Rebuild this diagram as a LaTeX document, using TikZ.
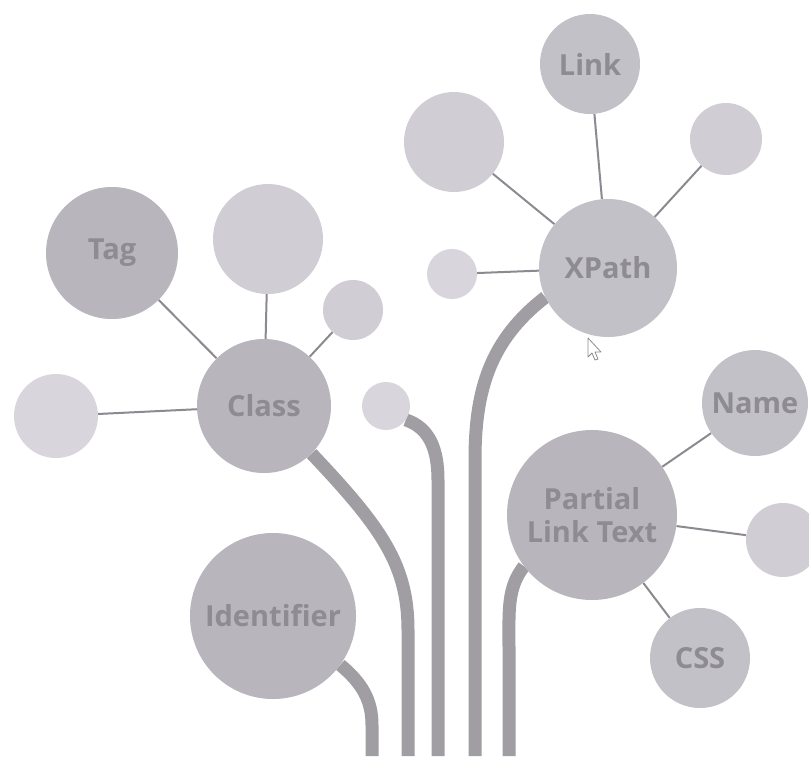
\documentclass[tikz,border=0pt]{standalone}
\usepackage{fontspec}
\setmainfont{Open Sans}
\pgfdeclarelayer{background}
\pgfsetlayers{background,main}
\begin{document}
\begin{tikzpicture}[x=1pt,y=-1pt,
  bub/.style={circle,inner sep=0pt,draw=none,font=\fontsize{29}{31}\selectfont\bfseries,text=txtc,align=center},
  dark/.style={bub,fill=darkc},
  mid/.style={bub,fill=midc},
  light/.style={bub,fill=lightc},
  lighter/.style={bub,fill=lighterc},
  conn/.style={draw=connc,line width=2pt},
  stem/.style={draw=stemc,line width=13pt}]
\definecolor{darkc}{RGB}{184,182,188}
\definecolor{midc}{RGB}{195,193,200}
\definecolor{lightc}{RGB}{208,206,212}
\definecolor{lighterc}{RGB}{216,214,220}
\definecolor{txtc}{RGB}{142,139,147}
\definecolor{connc}{RGB}{140,138,144}
\definecolor{stemc}{RGB}{160,158,163}
\useasboundingbox (0,0) rectangle (809,756);
% bottom ends of stems
\coordinate (b1) at (372,756);
\coordinate (b2) at (408,756);
\coordinate (b3) at (438,756);
\coordinate (b4) at (475,756);
\coordinate (b5) at (509,756);
% circles
\path
  (590,64)  node[mid,minimum size=100pt] (link) {Link}
  (454,142) node[light,minimum size=100pt] (xul) {}
  (726,139) node[light,minimum size=72pt] (xur) {}
  (608,268) node[mid,minimum size=138pt] (xpath) {XPath}
  (452,274) node[lighter,minimum size=50pt] (xl) {}
  (112,253) node[dark,minimum size=132pt] (tag) {\raisebox{-4pt}{Tag}}
  (268,239) node[light,minimum size=110pt] (ctop) {}
  (353,310) node[light,minimum size=60pt] (cright) {}
  (264,406) node[dark,minimum size=134pt] (class) {Class}
  (56,416)  node[lighter,minimum size=84pt] (cleft) {}
  (386,406) node[lighter,minimum size=48pt] (tiny) {}
  (273,616) node[dark,minimum size=166pt] (ident) {Identifier}
  (592,515) node[dark,minimum size=170pt] (plt) {Partial\\[2pt]Link Text}
  (755,403) node[mid,minimum size=106pt] (name) {Name}
  (783,540) node[light,minimum size=74pt] (pright) {}
  (700,658) node[mid,minimum size=100pt] (css) {CSS};
\begin{pgfonlayer}{background}
\fill[white] (0,0) rectangle (809,756);
% stems
\draw[stem] (ident.-36) .. controls (362,683) and (372,700) .. (372,725) -- (b1);
\draw[stem] (class.-45) .. controls (382,528) and (408,565) .. (408,630) -- (b2);
\draw[stem] (tiny.-35) .. controls (430,428) and (438,450) .. (438,480) -- (b3);
\draw[stem] (xpath.205) .. controls (490,340) and (475,390) .. (475,460) -- (b4);
\draw[stem] (plt.217) .. controls (507,588) and (509,610) .. (509,650) -- (b5);
% connectors
\draw[conn] (class) -- (tag);
\draw[conn] (class) -- (ctop);
\draw[conn] (class) -- (cright);
\draw[conn] (class) -- (cleft);
\draw[conn] (xpath) -- (link);
\draw[conn] (xpath) -- (xul);
\draw[conn] (xpath) -- (xur);
\draw[conn] (xpath) -- (xl);
\draw[conn] (plt) -- (name);
\draw[conn] (plt) -- (pright);
\draw[conn] (plt) -- (css);
\end{pgfonlayer}
% mouse cursor
\draw[draw=txtc,fill=white,line width=0.8pt,line join=round]
  (588,338) -- (588,357) -- (592,353) -- (595,360) -- (598,359) -- (595,352) -- (601,352) -- cycle;
\end{tikzpicture}
\end{document}
